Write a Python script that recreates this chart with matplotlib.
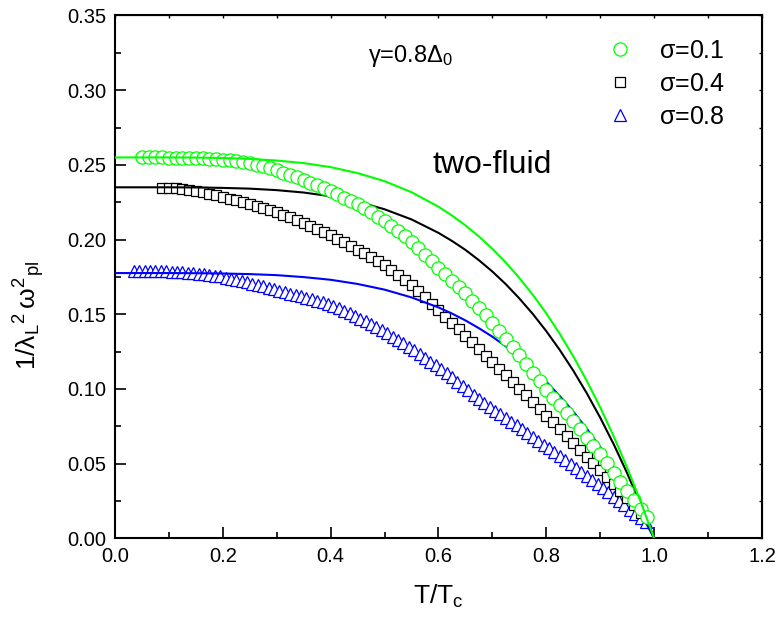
"""
穿透深度 1/λ² 随温度变化 - 与二流体模型对比
"""
import matplotlib
import matplotlib.pyplot as plt
from matplotlib.ticker import MultipleLocator

matplotlib.rcParams['font.family'] = ['Liberation Sans', 'DejaVu Sans']
matplotlib.rcParams['mathtext.fontset'] = 'custom'
matplotlib.rcParams['mathtext.rm'] = 'Liberation Sans'
matplotlib.rcParams['mathtext.it'] = 'Liberation Sans'
matplotlib.rcParams['mathtext.bf'] = 'Liberation Sans:bold'

# sigma = 0.1 (圆圈)
t_s01 = [0.05, 0.0625, 0.075, 0.0875, 0.1, 0.1125, 0.125, 0.1375, 0.15, 0.1625,
         0.175, 0.1875, 0.2, 0.2125, 0.225, 0.2375, 0.25, 0.2625, 0.275, 0.2875,
         0.3, 0.3125, 0.325, 0.3375, 0.35, 0.3625, 0.375, 0.3875, 0.4, 0.4125,
         0.425, 0.4375, 0.45, 0.4625, 0.475, 0.4875, 0.5, 0.5125, 0.525, 0.5375,
         0.55, 0.5625, 0.575, 0.5875, 0.6, 0.6125, 0.625, 0.6375, 0.65, 0.6625,
         0.675, 0.6875, 0.7, 0.7125, 0.725, 0.7375, 0.75, 0.7625, 0.775, 0.7875,
         0.8, 0.8125, 0.825, 0.8375, 0.85, 0.8625, 0.875, 0.8875, 0.9, 0.9125,
         0.925, 0.9375, 0.95, 0.9625, 0.975, 0.9875]
v_s01 = [0.2550, 0.2550, 0.2550, 0.2550, 0.2549, 0.2549, 0.2548, 0.2546, 0.2545, 0.2543,
         0.2541, 0.2538, 0.2535, 0.2530, 0.2525, 0.2519, 0.2512, 0.2502, 0.2491, 0.2478,
         0.2463, 0.2448, 0.2433, 0.2417, 0.2400, 0.2382, 0.2363, 0.2344, 0.2325, 0.2303,
         0.2281, 0.2259, 0.2235, 0.2209, 0.2182, 0.2154, 0.2125, 0.2091, 0.2056, 0.2021,
         0.1985, 0.1942, 0.1898, 0.1854, 0.1810, 0.1767, 0.1725, 0.1682, 0.1640, 0.1592,
         0.1543, 0.1494, 0.1445, 0.1390, 0.1335, 0.1280, 0.1225, 0.1168, 0.1110, 0.1053,
         0.0995, 0.0943, 0.0890, 0.0838, 0.0785, 0.0730, 0.0675, 0.0620, 0.0565, 0.0503,
         0.0440, 0.0378, 0.0315, 0.0257, 0.0200, 0.0140]

# sigma = 0.4 (方块)
t_s04 = [0.0875, 0.1, 0.1125, 0.125, 0.1375, 0.15, 0.1625, 0.175, 0.1875, 0.2,
         0.2125, 0.225, 0.2375, 0.25, 0.2625, 0.275, 0.2875, 0.3, 0.3125, 0.325,
         0.3375, 0.35, 0.3625, 0.375, 0.3875, 0.4, 0.4125, 0.425, 0.4375, 0.45,
         0.4625, 0.475, 0.4875, 0.5, 0.5125, 0.525, 0.5375, 0.55, 0.5625, 0.575,
         0.5875, 0.6, 0.6125, 0.625, 0.6375, 0.65, 0.6625, 0.675, 0.6875, 0.7,
         0.7125, 0.725, 0.7375, 0.75, 0.7625, 0.775, 0.7875, 0.8, 0.8125, 0.825,
         0.8375, 0.85, 0.8625, 0.875, 0.8875, 0.9, 0.9125, 0.925, 0.9375, 0.95,
         0.9625, 0.975]
v_s04 = [0.2347, 0.2345, 0.2342, 0.2338, 0.2332, 0.2325, 0.2316, 0.2307, 0.2296, 0.2285,
         0.2274, 0.2263, 0.2251, 0.2238, 0.2225, 0.2212, 0.2198, 0.2184, 0.2167, 0.2150,
         0.2132, 0.2113, 0.2093, 0.2072, 0.2050, 0.2028, 0.2005, 0.1981, 0.1957, 0.1933,
         0.1909, 0.1884, 0.1858, 0.1832, 0.1799, 0.1765, 0.1731, 0.1697, 0.1655, 0.1613,
         0.1571, 0.1528, 0.1485, 0.1442, 0.1399, 0.1356, 0.1312, 0.1268, 0.1224, 0.1180,
         0.1136, 0.1091, 0.1047, 0.1002, 0.0957, 0.0912, 0.0867, 0.0822, 0.0777, 0.0731,
         0.0686, 0.0640, 0.0594, 0.0548, 0.0502, 0.0455, 0.0409, 0.0362, 0.0315, 0.0268,
         0.0221, 0.0173]

# sigma = 0.8 (三角)
t_s08 = [0.035, 0.045, 0.055, 0.065, 0.075, 0.085, 0.095, 0.105, 0.115, 0.125,
         0.135, 0.145, 0.155, 0.165, 0.175, 0.185, 0.195, 0.205, 0.215, 0.225,
         0.235, 0.245, 0.255, 0.265, 0.275, 0.285, 0.295, 0.305, 0.315, 0.325,
         0.335, 0.345, 0.355, 0.365, 0.375, 0.385, 0.395, 0.405, 0.415, 0.425,
         0.435, 0.445, 0.455, 0.465, 0.475, 0.485, 0.495, 0.505, 0.515, 0.525,
         0.535, 0.545, 0.555, 0.565, 0.575, 0.585, 0.595, 0.605, 0.615, 0.625,
         0.635, 0.645, 0.655, 0.665, 0.675, 0.685, 0.695, 0.705, 0.715, 0.725,
         0.735, 0.745, 0.755, 0.765, 0.775, 0.785, 0.795, 0.805, 0.815, 0.825,
         0.835, 0.845, 0.855, 0.865, 0.875, 0.885, 0.895, 0.905, 0.915, 0.925,
         0.935, 0.945, 0.955, 0.965, 0.975, 0.985]
v_s08 = [0.1792, 0.1791, 0.1791, 0.1790, 0.1789, 0.1788, 0.1787, 0.1786, 0.1784, 0.1781,
         0.1779, 0.1776, 0.1773, 0.1769, 0.1764, 0.1758, 0.1753, 0.1746, 0.1739, 0.1731,
         0.1723, 0.1714, 0.1705, 0.1696, 0.1687, 0.1677, 0.1668, 0.1658, 0.1649, 0.1639,
         0.1630, 0.1620, 0.1610, 0.1600, 0.1590, 0.1580, 0.1570, 0.1558, 0.1542, 0.1525,
         0.1507, 0.1489, 0.1471, 0.1452, 0.1433, 0.1413, 0.1392, 0.1372, 0.1350, 0.1329,
         0.1306, 0.1283, 0.1260, 0.1235, 0.1210, 0.1184, 0.1159, 0.1132, 0.1105, 0.1078,
         0.1049, 0.1020, 0.0992, 0.0963, 0.0934, 0.0907, 0.0881, 0.0856, 0.0831, 0.0806,
         0.0782, 0.0757, 0.0732, 0.0707, 0.0681, 0.0655, 0.0628, 0.0602, 0.0576, 0.0550,
         0.0524, 0.0499, 0.0473, 0.0447, 0.0421, 0.0394, 0.0366, 0.0337, 0.0308, 0.0279,
         0.0250, 0.0221, 0.0192, 0.0163, 0.0135, 0.0108]

# 二流体模型曲线
t_fluid = [0.0, 0.05, 0.1, 0.15, 0.2, 0.25, 0.3, 0.35, 0.4, 0.45, 0.5, 0.55, 0.6,
           0.625, 0.65, 0.675, 0.7, 0.725, 0.75, 0.775, 0.8, 0.825, 0.85, 0.875,
           0.9, 0.925, 0.95, 0.975, 1.0]
v_fluid_01 = [0.2550, 0.2550, 0.2550, 0.2549, 0.2546, 0.2540, 0.2529, 0.2512, 0.2485,
              0.2445, 0.2391, 0.2317, 0.2220, 0.2161, 0.2095, 0.2021, 0.1938, 0.1846,
              0.1743, 0.1630, 0.1506, 0.1369, 0.1219, 0.1055, 0.0877, 0.0683, 0.0473,
              0.0246, 0.0]
v_fluid_04 = [0.2350, 0.2350, 0.2350, 0.2349, 0.2346, 0.2341, 0.2331, 0.2315, 0.2290,
              0.2254, 0.2203, 0.2135, 0.2045, 0.1991, 0.1931, 0.1862, 0.1786, 0.1701,
              0.1606, 0.1502, 0.1387, 0.1261, 0.1123, 0.0972, 0.0808, 0.0630, 0.0436,
              0.0226, 0.0]
v_fluid_08 = [0.1776, 0.1776, 0.1776, 0.1775, 0.1773, 0.1769, 0.1762, 0.1749, 0.1731,
              0.1703, 0.1665, 0.1613, 0.1546, 0.1505, 0.1459, 0.1407, 0.1350, 0.1285,
              0.1214, 0.1135, 0.1049, 0.0953, 0.0849, 0.0735, 0.0611, 0.0476, 0.0329,
              0.0171, 0.0]

GREEN = '#00ff00'
BLUE = '#0000ff'

fig = plt.figure(figsize=(7.78, 6.27), dpi=100)
ax = fig.add_axes([0.1478, 0.1413, 0.8316, 0.8340])

# 数据点 (空心) 与曲线
ax.plot(t_s08, v_s08, linestyle='none', marker='^', ms=8, mfc='white', mec=BLUE,
        mew=0.9, label=r'$\sigma$=0.8', zorder=2)
ax.plot(t_s04, v_s04, linestyle='none', marker='s', ms=7.2, mfc='white', mec='black',
        mew=0.9, label=r'$\sigma$=0.4', zorder=3)
ax.plot(t_fluid, v_fluid_08, color=BLUE, lw=1.5, zorder=4)
ax.plot(t_fluid, v_fluid_04, color='black', lw=1.5, zorder=5)
ax.plot(t_s01, v_s01, linestyle='none', marker='o', ms=9.5, mfc='white', mec=GREEN,
        mew=0.9, label=r'$\sigma$=0.1', zorder=6)
ax.plot(t_fluid, v_fluid_01, color=GREEN, lw=1.5, zorder=7)

# 坐标轴
ax.set_xlim(0, 1.2)
ax.set_ylim(0, 0.35)
ax.xaxis.set_major_locator(MultipleLocator(0.2))
ax.xaxis.set_minor_locator(MultipleLocator(0.1))
ax.yaxis.set_major_locator(MultipleLocator(0.05))
ax.yaxis.set_minor_locator(MultipleLocator(0.025))
ax.xaxis.set_major_formatter(matplotlib.ticker.FormatStrFormatter('%.1f'))
ax.yaxis.set_major_formatter(matplotlib.ticker.FormatStrFormatter('%.2f'))
ax.tick_params(which='major', direction='in', length=8, width=1.2, labelsize=14.5, pad=6)
ax.tick_params(which='minor', direction='in', length=4.5, width=1.2)
for sp in ax.spines.values():
    sp.set_linewidth(1.5)

# 上、右两侧的小刻度
top = ax.secondary_xaxis('top')
top.xaxis.set_major_locator(MultipleLocator(0.1))
top.tick_params(direction='in', length=2.5, width=1.0, labeltop=False)
right = ax.secondary_yaxis('right')
right.yaxis.set_major_locator(MultipleLocator(0.025))
right.tick_params(direction='in', length=2.5, width=1.0, labelright=False)

ax.set_xlabel(r'T/T$_{\rm c}$', fontsize=19, labelpad=12)
ax.set_ylabel(r'1/$\lambda_{\rm L}{}^{2}\,\omega^{2}{}_{\rm pl}$', fontsize=19)
ax.yaxis.set_label_coords(-0.105, 0.426)

# 注释文字
ax.text(0.469, 0.323, r'$\gamma$=0.8$\Delta_{\rm 0}$', fontsize=17, va='center')
ax.text(0.588, 0.250, 'two-fluid', fontsize=23, va='center')

# 图例
handles, labels = ax.get_legend_handles_labels()
order = [2, 1, 0]
ax.legend([handles[i] for i in order], [labels[i] for i in order],
          loc='upper left', bbox_to_anchor=(0.7465, 0.975), borderaxespad=0,
          frameon=False, numpoints=1, fontsize=18, handlelength=1.0,
          handletextpad=1.06, labelspacing=0.36)

plt.savefig('out.png', dpi=100)
plt.close()
